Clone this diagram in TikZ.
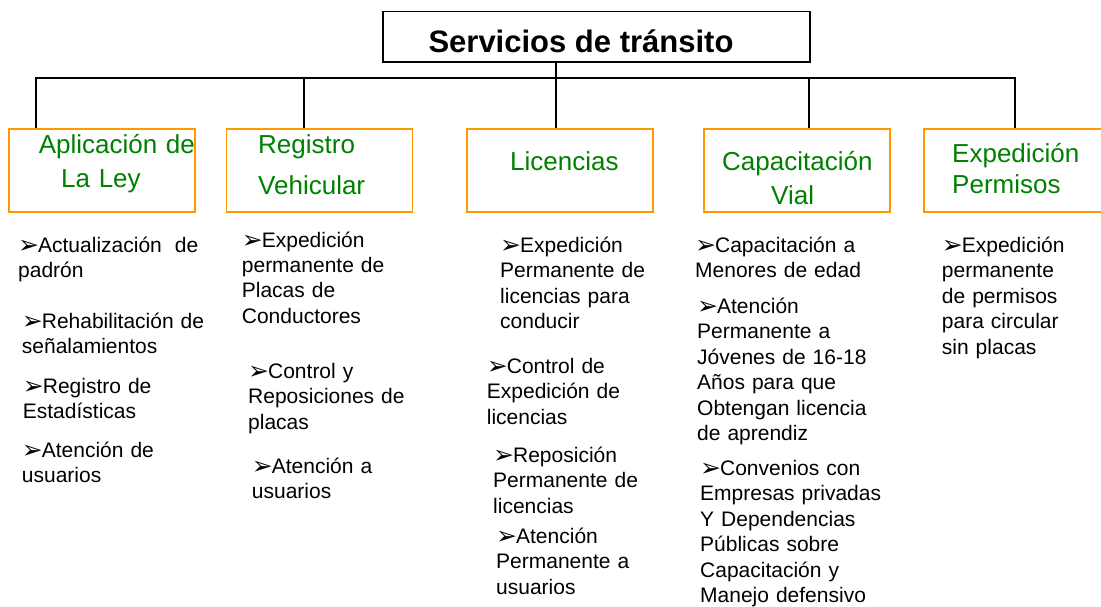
\documentclass[tikz,border=0pt]{standalone}
\usepackage{fontspec}
\setmainfont{Liberation Sans}
\newfontfamily\dv{DejaVu Sans}
\definecolor{boxorange}{RGB}{255,153,0}
\definecolor{labgreen}{RGB}{0,128,0}
\newcommand{\bul}{\raisebox{-1.5pt}{\dv\fontsize{25}{25}\selectfont ➢}\hspace{-1pt}}
\begin{document}
\begin{tikzpicture}[x=1pt,y=-1pt,
  cat/.style={draw=boxorange,line width=1.8pt,minimum width=186pt,minimum height=83pt,anchor=north west,inner sep=0pt},
  lab/.style={anchor=base west,inner sep=0pt,text width=200pt,align=left,text=labgreen},
  item/.style={anchor=base west,inner sep=0pt,text width=230pt,align=left,font=\fontsize{21}{25.5}\selectfont},
  conn/.style={line width=1.8pt,black}]
\useasboundingbox (0,0) rectangle (1101,607);
% title
\node[draw,line width=1.8pt,minimum width=427pt,minimum height=50.4pt,inner sep=0pt,
      text height=31.6pt,text depth=0pt,font=\fontsize{31}{31}\selectfont\bfseries]
      (title) at (596.5,36.8) {Servicios de tránsito\hspace*{31pt}};
% category boxes
\node[cat] (c1) at (8.4,128) {};
\node[cat] (c2) at (225.5,128) {};
\node[cat] (c3) at (466,128) {};
\node[cat] (c4) at (703,128) {};
\node[cat,minimum width=190pt] (c5) at (923,128) {};
% labels
\node[lab,font=\fontsize{26}{34}\selectfont] (l1) at (38.6,154) {Aplicación de\\\hspace*{22.4pt}La Ley};
\node[lab,font=\fontsize{26}{41}\selectfont] (l2) at (258,154) {Registro\\Vehicular};
\node[lab,font=\fontsize{26}{34}\selectfont] (l3) at (510,171) {Licencias};
\node[lab,font=\fontsize{26}{34}\selectfont] (l4) at (722,171) {Capacitación\\\hspace*{49pt}Vial};
\node[lab,font=\fontsize{26}{31}\selectfont] (l5) at (952,163) {Expedición\\Permisos};
% bus
\coordinate (b1) at (36,78);
\coordinate (b2) at (304,78);
\coordinate (b3) at (556,78);
\coordinate (b4) at (809,78);
\coordinate (b5) at (1015,78);
\draw[conn] (b1 |- c1.north) -- (b1) -- (b5) -- (b5 |- c5.north);
\draw[conn] (b2) -- (b2 |- c2.north);
\draw[conn] (b3 |- title.south) -- (b3 |- c3.north);
\draw[conn] (b4) -- (b4 |- c4.north);
% items column 1
\node[item] (i11) at (18,252) {\bul Actualización\hspace{6pt} de\\padrón};
\node[item] (i12) at (21.7,328) {\bul Rehabilitación de\\señalamientos};
\node[item] (i13) at (22.7,393) {\bul Registro de\\Estadísticas};
\node[item] (i14) at (21.7,457) {\bul Atención de\\usuarios};
% column 2
\node[item] (i21) at (241.7,247) {\bul Expedición\\permanente de\\Placas de\\Conductores};
\node[item] (i22) at (248,378) {\bul Control y\\Reposiciones de\\placas};
\node[item] (i23) at (251.7,473) {\bul Atención a\\usuarios};
% column 3
\node[item] (i31) at (500,252) {\bul Expedición\\Permanente de\\licencias para\\conducir};
\node[item] (i32) at (486.7,373) {\bul Control de\\Expedición de\\licencias};
\node[item] (i33) at (493,462) {\bul Reposición\\Permanente de\\licencias};
\node[item] (i34) at (496,543) {\bul Atención\\Permanente a\\usuarios};
% column 4
\node[item] (i41) at (695,252) {\bul Capacitación a\\Menores de edad};
\node[item] (i42) at (697,313) {\bul Atención\\Permanente a\\Jóvenes de 16-18\\Años para que\\Obtengan licencia\\de aprendiz};
\node[item] (i43) at (700,475) {\bul Convenios con\\Empresas privadas\\Y Dependencias\\Públicas sobre\\Capacitación y\\Manejo defensivo};
% column 5
\node[item] (i51) at (941.7,252) {\bul Expedición\\permanente\\de permisos\\para circular\\sin placas};
\end{tikzpicture}
\end{document}
